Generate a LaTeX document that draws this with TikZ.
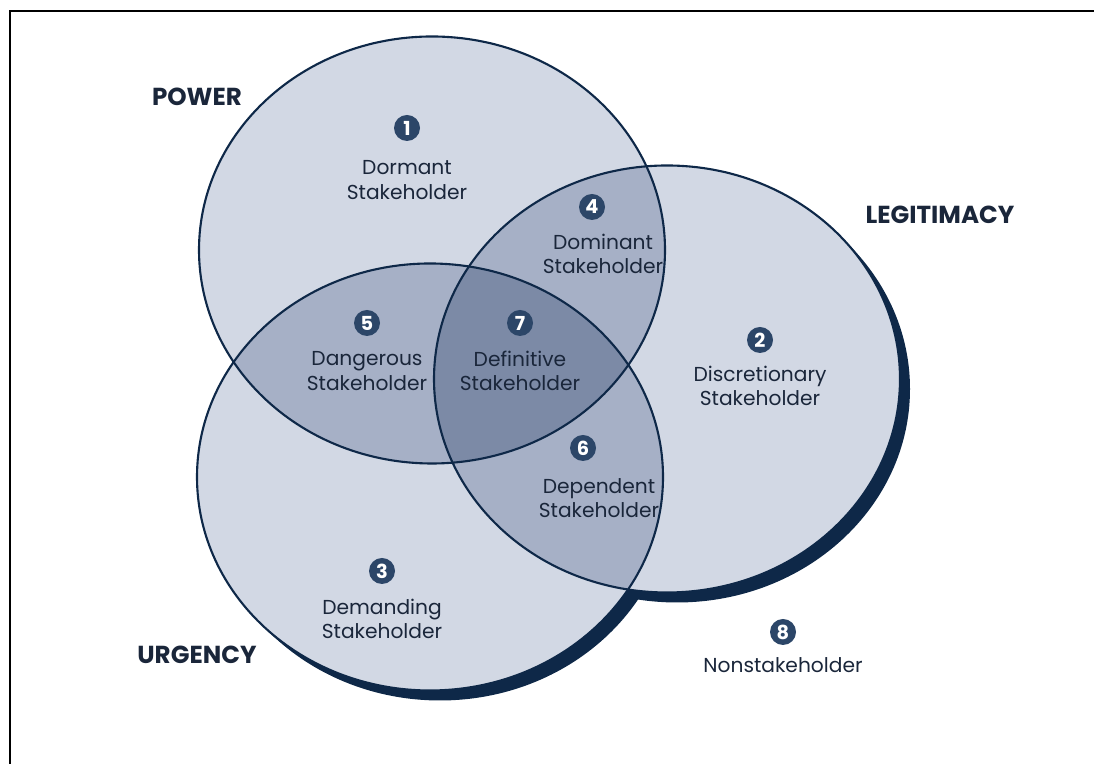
\documentclass[tikz,border=0pt]{standalone}
\usepackage{fontspec}
\setmainfont{Poppins}
\usepackage{tikz}
\usetikzlibrary{positioning, calc}
\definecolor{navy}{RGB}{14, 40, 72}
\definecolor{badgeblue}{RGB}{44, 70, 104}
\definecolor{textblue}{RGB}{26, 38, 58}
\definecolor{onefill}{RGB}{210, 216, 228}
\definecolor{twofill}{RGB}{166, 176, 198}
\definecolor{threefill}{RGB}{124, 138, 166}

\begin{document}
\begin{tikzpicture}[
  badge/.style={circle, fill=badgeblue, text=white, inner sep=0pt, minimum size=0.52cm, font=\fontsize{11}{11}\selectfont\bfseries},
  desc/.style={align=center, text=textblue, font=\fontsize{11.5}{14}\selectfont},
  setname/.style={text=textblue, font=\fontsize{14}{14}\selectfont\bfseries},
  outline/.style={draw=navy, line width=1.2pt}
]
  \useasboundingbox (0,0) rectangle (21.88,15.28);

  % frame
  \draw[line width=1.5pt] (0.2,0) -- (0.2,15.06) -- (21.88,15.06);

  % circle centres
  \coordinate (pw) at (8.64,10.28);
  \coordinate (ur) at (8.60,5.74);
  \coordinate (lg) at (13.34,7.70);
  \def\rx{4.66}
  \def\ry{4.27}

  % drop shadow
  \fill[navy] ($(lg)+(0.2,-0.2)$) ellipse ({\rx} and {\ry});
  \fill[navy] ($(ur)+(0.2,-0.2)$) ellipse ({\rx} and {\ry});

  % plain areas
  \fill[onefill] (pw) ellipse ({\rx} and {\ry});
  \fill[onefill] (ur) ellipse ({\rx} and {\ry});
  \fill[onefill] (lg) ellipse ({\rx} and {\ry});

  % two-way overlaps
  \begin{scope}
    \clip (pw) ellipse ({\rx} and {\ry});
    \fill[twofill] (ur) ellipse ({\rx} and {\ry});
    \fill[twofill] (lg) ellipse ({\rx} and {\ry});
  \end{scope}
  \begin{scope}
    \clip (ur) ellipse ({\rx} and {\ry});
    \fill[twofill] (lg) ellipse ({\rx} and {\ry});
  \end{scope}

  % three-way overlap
  \begin{scope}
    \clip (pw) ellipse ({\rx} and {\ry});
    \clip (ur) ellipse ({\rx} and {\ry});
    \fill[threefill] (lg) ellipse ({\rx} and {\ry});
  \end{scope}

  % outlines
  \draw[outline] (pw) ellipse ({\rx} and {\ry});
  \draw[outline] (ur) ellipse ({\rx} and {\ry});
  \draw[outline] (lg) ellipse ({\rx} and {\ry});

  % set names
  \node[setname] (power) at (3.94,13.34) {POWER};
  \node[setname] (legit) at (18.80,10.98) {LEGITIMACY};
  \node[setname] (urgency) at (3.94,2.18) {URGENCY};

  % stakeholder classes
  \node[badge] (b1) at (8.14,12.72) {1};
  \node[desc] (t1) at (8.14,11.68) {Dormant\\Stakeholder};
  \node[badge] (b4) at (11.84,11.14) {4};
  \node[desc] (t4) at (12.06,10.20) {Dominant\\Stakeholder};
  \node[badge] (b5) at (7.34,8.82) {5};
  \node[desc] (t5) at (7.34,7.86) {Dangerous\\Stakeholder};
  \node[badge] (b7) at (10.40,8.82) {7};
  \node[desc] (t7) at (10.40,7.86) {Definitive\\Stakeholder};
  \node[badge] (b2) at (15.20,8.48) {2};
  \node[desc] (t2) at (15.20,7.56) {Discretionary\\Stakeholder};
  \node[badge] (b6) at (11.66,6.32) {6};
  \node[desc] (t6) at (11.98,5.32) {Dependent\\Stakeholder};
  \node[badge] (b3) at (7.64,3.86) {3};
  \node[desc] (t3) at (7.64,2.90) {Demanding\\Stakeholder};
  \node[badge] (b8) at (15.66,2.64) {8};
  \node[desc] (t8) at (15.66,1.98) {Nonstakeholder};
\end{tikzpicture}
\end{document}
